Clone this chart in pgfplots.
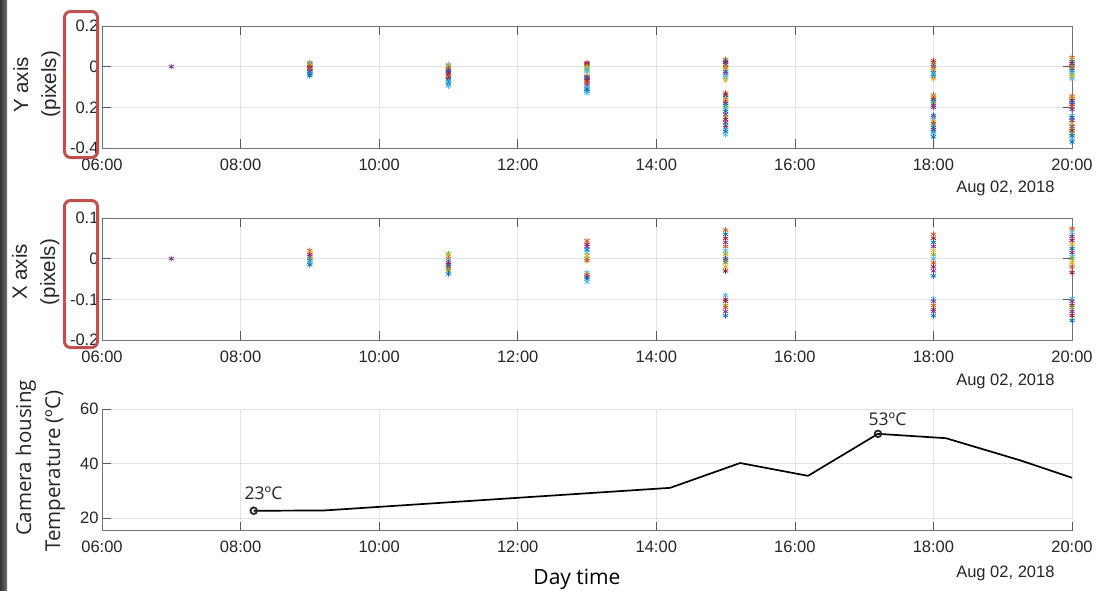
\documentclass[border=0pt]{standalone}
\usepackage{fontspec}
\setmainfont{Liberation Sans}
\newfontfamily\osans{Open Sans}
\usepackage{pgfplots}
\usepackage{pgfplotstable}
\pgfplotsset{compat=1.18}

\definecolor{ma}{rgb}{0,0.447,0.741}
\definecolor{mb}{rgb}{0.85,0.325,0.098}
\definecolor{mc}{rgb}{0.929,0.694,0.125}
\definecolor{md}{rgb}{0.494,0.184,0.556}
\definecolor{me}{rgb}{0.466,0.674,0.188}
\definecolor{mf}{rgb}{0.301,0.745,0.933}
\definecolor{mg}{rgb}{0.635,0.078,0.184}
\definecolor{boxred}{RGB}{192,80,77}

\pgfplotstableread{
x y c
7 0 d
9 0.02 b
9 0.015 f
9 0.01 e
9 0.005 c
9 0 b
9 -0.005 g
9 -0.01 d
9 -0.015 c
9 -0.02 g
9 -0.025 d
9 -0.03 f
9 -0.035 a
9 -0.045 a
11 0.01 e
11 0.005 f
11 0 c
11 -0.005 e
11 -0.01 b
11 -0.02 d
11 -0.025 a
11 -0.03 d
11 -0.04 g
11 -0.05 b
11 -0.06 g
11 -0.065 a
11 -0.075 f
11 -0.085 a
11 -0.095 f
13 0.02 b
13 0.015 g
13 0.01 d
13 0.005 b
13 0 e
13 -0.005 c
13 -0.01 f
13 -0.02 e
13 -0.025 f
13 -0.045 c
13 -0.05 d
13 -0.055 a
13 -0.06 d
13 -0.07 g
13 -0.08 b
13 -0.09 d
13 -0.1 f
13 -0.11 a
13 -0.12 a
13 -0.13 f
15 0.035 b
15 0.025 a
15 0.02 g
15 0.01 d
15 0 e
15 -0.005 b
15 -0.015 c
15 -0.025 a
15 -0.035 d
15 -0.045 f
15 -0.055 f
15 -0.065 c
15 -0.13 b
15 -0.14 g
15 -0.15 a
15 -0.16 c
15 -0.17 b
15 -0.18 d
15 -0.19 a
15 -0.2 e
15 -0.21 f
15 -0.22 a
15 -0.235 d
15 -0.25 e
15 -0.26 g
15 -0.275 d
15 -0.29 a
15 -0.3 g
15 -0.31 f
15 -0.32 a
15 -0.335 f
18 0.03 b
18 0.02 g
18 0.01 e
18 0 d
18 -0.01 b
18 -0.02 c
18 -0.03 a
18 -0.04 f
18 -0.05 a
18 -0.06 c
18 -0.14 b
18 -0.15 c
18 -0.16 g
18 -0.17 a
18 -0.18 e
18 -0.19 d
18 -0.2 d
18 -0.24 a
18 -0.25 d
18 -0.26 f
18 -0.27 c
18 -0.28 g
18 -0.29 e
18 -0.3 a
18 -0.31 d
18 -0.32 a
18 -0.33 f
18 -0.345 a
20 0.045 b
20 0.035 c
20 0.025 a
20 0.015 g
20 0.005 d
20 0 e
20 -0.01 b
20 -0.02 a
20 -0.03 f
20 -0.04 e
20 -0.05 c
20 -0.06 f
20 -0.145 b
20 -0.155 c
20 -0.165 g
20 -0.175 a
20 -0.185 d
20 -0.195 b
20 -0.21 d
20 -0.24 f
20 -0.25 a
20 -0.265 d
20 -0.28 c
20 -0.295 d
20 -0.305 e
20 -0.315 g
20 -0.33 e
20 -0.34 a
20 -0.355 f
20 -0.37 a
}\ytab

\pgfplotstableread{
x y c
7 0 d
9 0.02 b
9 0.015 c
9 0.01 g
9 0.005 d
9 0 e
9 -0.005 a
9 -0.01 f
9 -0.015 a
11 0.012 e
11 0.006 c
11 0 b
11 -0.005 f
11 -0.01 d
11 -0.015 g
11 -0.02 a
11 -0.025 b
11 -0.03 e
11 -0.037 a
13 0.044 b
13 0.035 g
13 0.03 d
13 0.022 a
13 0.015 f
13 0.008 c
13 0 e
13 -0.005 b
13 -0.034 f
13 -0.04 b
13 -0.045 d
13 -0.05 a
13 -0.057 f
15 0.07 b
15 0.06 a
15 0.05 g
15 0.04 d
15 0.03 b
15 0.02 f
15 0.012 e
15 0.005 c
15 0 a
15 -0.005 d
15 -0.01 e
15 -0.02 c
15 -0.03 g
15 -0.09 f
15 -0.1 d
15 -0.105 g
15 -0.115 e
15 -0.12 b
15 -0.13 d
15 -0.14 a
18 0.06 b
18 0.05 g
18 0.04 a
18 0.03 d
18 0.02 c
18 0.01 e
18 0 f
18 -0.01 b
18 -0.02 g
18 -0.03 d
18 -0.042 a
18 -0.098 f
18 -0.105 d
18 -0.115 b
18 -0.125 g
18 -0.13 d
18 -0.14 a
20 0.074 b
20 0.065 f
20 0.055 d
20 0.045 g
20 0.035 c
20 0.025 a
20 0.015 d
20 0.005 f
20 0 e
20 -0.01 c
20 -0.02 b
20 -0.034 g
20 -0.098 f
20 -0.105 d
20 -0.115 g
20 -0.12 e
20 -0.13 d
20 -0.14 g
20 -0.152 a
}\xtab

\pgfplotstableread{
x y
8.19 22.7
9.2 22.8
14.2 31.1
15.21 40.2
16.19 35.5
17.2 50.9
18.18 49.3
19.25 41.2
20 34.8
}\ttab

\pgfplotsset{
  mstyle/.style={
    scale only axis, width=970pt, height=122pt,
    anchor=north west,
    xmin=6, xmax=20,
    xtick={6,8,10,12,14,16,18,20},
    xticklabels={06:00,08:00,10:00,12:00,14:00,16:00,18:00,20:00},
    grid=major,
    major grid style={black!11, line width=0.6pt},
    axis line style={black!55, line width=0.7pt},
    tick style={black!65, line width=0.7pt},
    major tick length=9pt,
    tick align=inside,
    ticklabel style={font=\fontsize{16.5}{18}\selectfont, text=black!85},
    xticklabel style={yshift=-7pt},
    clip=false,
  },
  mscat/.style={
    only marks, scatter, scatter src=explicit symbolic,
    mark size=3pt,
    scatter/classes={
      a={mark=asterisk,draw=ma},
      b={mark=asterisk,draw=mb},
      c={mark=asterisk,draw=mc},
      d={mark=asterisk,draw=md},
      e={mark=asterisk,draw=me},
      f={mark=asterisk,draw=mf},
      g={mark=asterisk,draw=mg}},
    every mark/.append style={line width=0.75pt},
  },
}

\begin{document}
\begin{tikzpicture}
\fill[white] (0pt,0pt) rectangle (1098pt,-590pt);
\path[use as bounding box] (0pt,0pt) rectangle (1098pt,-590pt);
\shade[left color=black!80, right color=black!55] (0pt,0pt) rectangle (7pt,-590pt);

% top: Y axis
\begin{axis}[mstyle, at={(102pt,-26pt)},
  ymin=-0.4, ymax=0.2,
  ytick={-0.4,-0.2,0,0.2},
  yticklabels={-0.4,0.2,0,0.2}]
\addplot[mscat] table[x=x,y=y,meta=c] {\ytab};
\end{axis}

% middle: X axis
\begin{axis}[mstyle, at={(102pt,-218pt)},
  ymin=-0.2, ymax=0.1,
  ytick={-0.2,-0.1,0,0.1},
  yticklabels={-0.2,-0.1,0,0.1}]
\addplot[mscat] table[x=x,y=y,meta=c] {\xtab};
\end{axis}

% bottom: temperature
\begin{axis}[mstyle, at={(102pt,-409pt)}, height=121.5pt,
  axis x line*=bottom, axis y line*=left,
  x axis line style={-}, y axis line style={-},
  ymin=15.46, ymax=60,
  ytick={20,40,60},
  yticklabels={20,40,60}]
\addplot[black, line width=1.7pt] table[x=x,y=y] {\ttab};
\addplot[only marks, mark=o, mark size=3.3pt, black!85, mark options={line width=1.8pt}] coordinates {(8.19,22.7) (17.2,50.9)};
\end{axis}

% dates
\node[anchor=base east, font=\fontsize{16.5}{18}\selectfont, text=black!85] at (1058pt,-192pt) {Aug 02, 2018};
\node[anchor=base east, font=\fontsize{16.5}{18}\selectfont, text=black!85] at (1058pt,-385pt) {Aug 02, 2018};
\node[anchor=base east, font=\fontsize{16.5}{18}\selectfont, text=black!85] at (1058pt,-577pt) {Aug 02, 2018};

% y labels
\node[rotate=90, anchor=base, font=\fontsize{20.5}{23}\selectfont, text=black!85] at (28pt,-85pt) {Y axis};
\node[rotate=90, anchor=base, font=\fontsize{20.5}{23}\selectfont, text=black!85] at (56pt,-84pt) {(pixels)};
\node[rotate=90, anchor=base, font=\fontsize{20.5}{23}\selectfont, text=black!85] at (27pt,-272pt) {X axis};
\node[rotate=90, anchor=base, font=\fontsize{20.5}{23}\selectfont, text=black!85] at (55pt,-272pt) {(pixels)};
\node[rotate=90, anchor=base, font=\osans\fontsize{20.5}{23}\selectfont, text=black!85] at (31pt,-458pt) {Camera housing};
\node[rotate=90, anchor=base, font=\osans\fontsize{20.5}{23}\selectfont, text=black!85] at (60pt,-471pt) {Temperature (ºC)};

% annotations
\node[anchor=base, font=\osans\fontsize{17.5}{20}\selectfont, text=black!85] at (263.5pt,-499pt) {23ºC};
\node[anchor=base, font=\osans\fontsize{17.5}{20}\selectfont, text=black!85] at (887.5pt,-425pt) {53ºC};
\node[anchor=base, font=\osans\fontsize{21}{24}\selectfont, text=black] at (577pt,-584.5pt) {Day time};

% red highlight boxes
\draw[boxred, line width=3pt, rounded corners=6pt] (64.5pt,-11.5pt) rectangle (97.5pt,-157.5pt);
\draw[boxred, line width=3pt, rounded corners=6pt] (64.5pt,-200.5pt) rectangle (97.5pt,-347.5pt);
\end{tikzpicture}
\end{document}
